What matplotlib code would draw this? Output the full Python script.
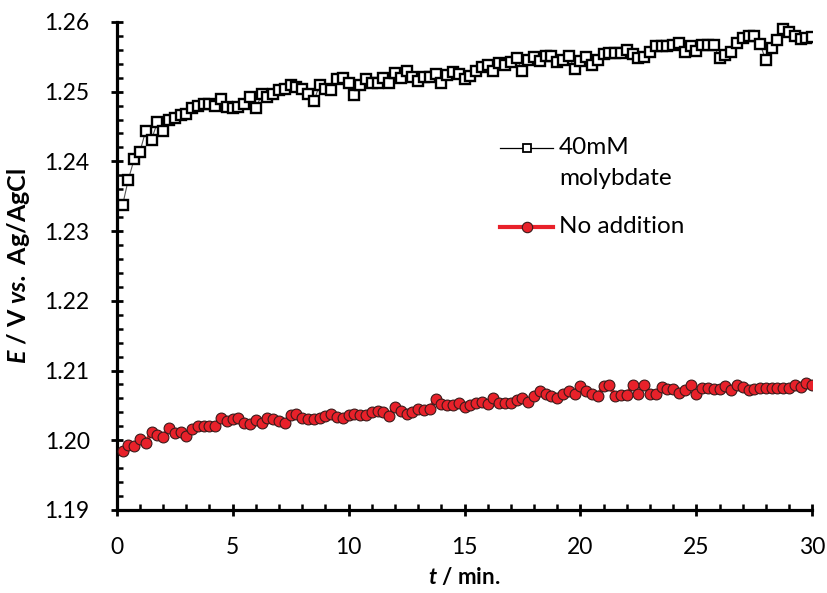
import numpy as np
import matplotlib
matplotlib.use("Agg")
import matplotlib.pyplot as plt
from matplotlib.lines import Line2D
from matplotlib.ticker import MultipleLocator, FormatStrFormatter

plt.rcParams['font.family'] = ['Lato', 'DejaVu Sans']
plt.rcParams['mathtext.fontset'] = 'custom'
plt.rcParams['mathtext.rm'] = 'Lato'
plt.rcParams['mathtext.bf'] = 'Lato:bold'
plt.rcParams['mathtext.bfit'] = 'Lato:italic:bold'

# sampling interval of the potential readings (min)
time_step = 0.25

molybdate = [
    1.2337, 1.2374, 1.2403, 1.2414, 1.2444, 1.2431, 1.2456, 1.2444, 1.2460, 1.2462,
    1.2467, 1.2468, 1.2476, 1.2479, 1.2482, 1.2482, 1.2479, 1.2489, 1.2478, 1.2476,
    1.2478, 1.2482, 1.2492, 1.2476, 1.2496, 1.2492, 1.2497, 1.2503, 1.2504, 1.2509,
    1.2506, 1.2504, 1.2497, 1.2486, 1.2510, 1.2504, 1.2502, 1.2518, 1.2519, 1.2513,
    1.2495, 1.2509, 1.2518, 1.2512, 1.2513, 1.2519, 1.2512, 1.2527, 1.2519, 1.2530,
    1.2521, 1.2515, 1.2521, 1.2521, 1.2525, 1.2513, 1.2524, 1.2528,
    1.2525, 1.2518, 1.2523, 1.2530, 1.2536, 1.2538, 1.2530, 1.2541, 1.2538, 1.2543,
    1.2548, 1.2529, 1.2546, 1.2549, 1.2544, 1.2551, 1.2551, 1.2543, 1.2546, 1.2551,
    1.2533, 1.2544, 1.2550, 1.2538, 1.2545, 1.2554, 1.2556, 1.2555, 1.2556, 1.2560,
    1.2554, 1.2548, 1.2549, 1.2557, 1.2565, 1.2566, 1.2565, 1.2567, 1.2570, 1.2557,
    1.2565, 1.2559, 1.2567, 1.2567, 1.2567, 1.2548, 1.2553, 1.2557, 1.2570, 1.2577,
    1.2580, 1.2580, 1.2568, 1.2545, 1.2562, 1.2574, 1.2590, 1.2586, 1.2580, 1.2575,
    1.2577, 1.2579,
]

no_addition = [
    1.1985, 1.1993, 1.1992, 1.2002, 1.1996, 1.2012, 1.2007, 1.2004, 1.2017, 1.2010,
    1.2012, 1.2006, 1.2016, 1.2020, 1.2021, 1.2021, 1.2021, 1.2032, 1.2028, 1.2030,
    1.2032, 1.2025, 1.2024, 1.2029, 1.2025, 1.2032, 1.2031, 1.2028, 1.2025, 1.2036,
    1.2037, 1.2032, 1.2031, 1.2030, 1.2032, 1.2035, 1.2037, 1.2034, 1.2032, 1.2036,
    1.2037, 1.2036,
    1.2036, 1.2040, 1.2042, 1.2041, 1.2035, 1.2048, 1.2042, 1.2037, 1.2041, 1.2045,
    1.2043, 1.2045, 1.2059, 1.2052, 1.2051, 1.2050, 1.2054, 1.2047, 1.2051, 1.2053,
    1.2055, 1.2052, 1.2061, 1.2053, 1.2053, 1.2053, 1.2058, 1.2061, 1.2055, 1.2063,
    1.2071, 1.2066, 1.2063, 1.2061, 1.2066, 1.2071, 1.2067, 1.2078, 1.2070, 1.2067,
    1.2064,
    1.2078, 1.2079, 1.2063, 1.2065, 1.2065, 1.2079, 1.2067, 1.2079, 1.2067, 1.2066,
    1.2076, 1.2073, 1.2073, 1.2068, 1.2072, 1.2079, 1.2067, 1.2075, 1.2075, 1.2073,
    1.2073, 1.2078, 1.2072, 1.2079, 1.2077, 1.2072, 1.2073, 1.2075, 1.2075, 1.2075,
    1.2075, 1.2075, 1.2075, 1.2079, 1.2077, 1.2082, 1.2079,
]

t_mol = time_step * np.arange(1, len(molybdate) + 1)
t_none = time_step * np.arange(1, len(no_addition) + 1)

red = '#e8212a'

fig = plt.figure(figsize=(8.28, 5.93), dpi=100)
ax = fig.add_axes([0.141, 0.140, 0.840, 0.823])

ax.plot(t_none, no_addition, color=red, lw=3, marker='o', ms=7.8,
        mfc=red, mec='#3a1a1a', mew=0.8, zorder=3)
ax.plot(t_mol, molybdate, color='#555555', lw=0.8, marker='s', ms=7.2,
        mfc='white', mec='black', mew=1.7, zorder=4)

ax.set_xlim(0, 30)
ax.set_ylim(1.19, 1.26)
ax.xaxis.set_major_locator(MultipleLocator(5))
ax.xaxis.set_minor_locator(MultipleLocator(1))
ax.yaxis.set_major_locator(MultipleLocator(0.01))
ax.yaxis.set_minor_locator(MultipleLocator(0.002))
ax.yaxis.set_major_formatter(FormatStrFormatter('%.2f'))

for side in ['top', 'right']:
    ax.spines[side].set_visible(False)
for side in ['left', 'bottom']:
    ax.spines[side].set_linewidth(2.3)

ax.tick_params(which='major', direction='inout', length=9, width=2.0,
               labelsize=16.5, colors='black')
ax.tick_params(which='minor', direction='in', length=4.5, width=1.8)
ax.tick_params(axis='x', which='major', pad=15)
ax.tick_params(axis='y', which='major', pad=15)

ax.set_xlabel(r'$\mathbfit{t}$ / min.', fontsize=16, fontweight='bold', labelpad=6)
ax.set_ylabel(r'$\mathbfit{E}$ / V $\mathbfit{vs.}$ Ag/AgCl', fontsize=18,
              fontweight='bold', labelpad=9)

# legend drawn by hand so the handle sits on the first line of the label
tr = ax.transAxes
ax.add_line(Line2D([0.551, 0.627], [0.742, 0.742], transform=tr, color='black',
                   lw=0.9, clip_on=False))
ax.add_line(Line2D([0.590], [0.742], transform=tr, marker='s', ms=6,
                   mfc='white', mec='black', mew=1.3, clip_on=False))
ax.text(0.636, 0.742, '40mM', transform=tr, fontsize=17.5, va='center', ha='left')
ax.text(0.636, 0.680, 'molybdate', transform=tr, fontsize=17.5, va='center', ha='left')
ax.add_line(Line2D([0.551, 0.627], [0.580, 0.580], transform=tr, color=red,
                   lw=3, clip_on=False))
ax.add_line(Line2D([0.590], [0.580], transform=tr, marker='o', ms=7.5,
                   mfc=red, mec='#3a1a1a', mew=0.8, clip_on=False))
ax.text(0.636, 0.580, 'No addition', transform=tr, fontsize=17.5, va='center', ha='left')

fig.savefig('out.png', dpi=100)
